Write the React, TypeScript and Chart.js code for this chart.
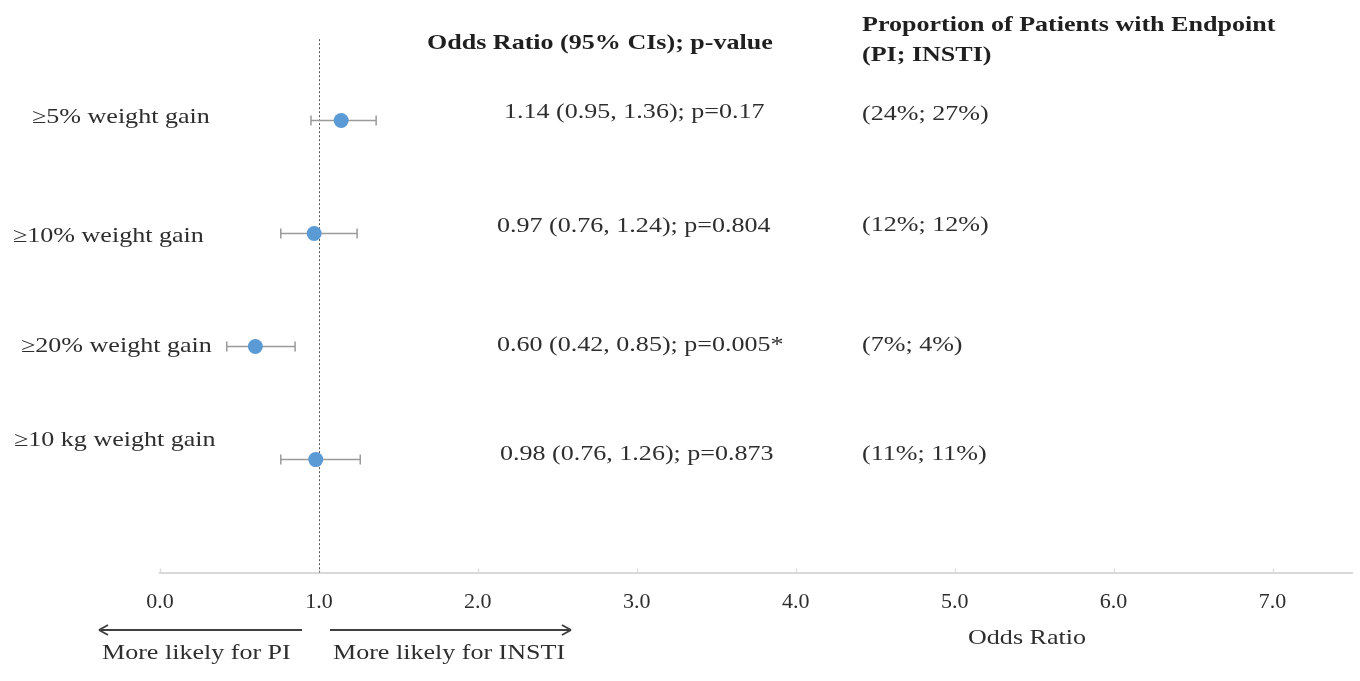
import React, { useEffect, useRef } from 'react';
import { Chart, registerables } from 'chart.js';

Chart.register(...registerables);

// ---- data ----
const OUTCOMES = ['≥5% weight gain', '≥10% weight gain', '≥20% weight gain', '≥10 kg weight gain'];
const ODDS_RATIOS = [1.14, 0.97, 0.6, 0.98];
const CI_LOWER = [0.95, 0.76, 0.42, 0.76];
const CI_UPPER = [1.36, 1.24, 0.85, 1.26];
const P_VALUES = ['0.17', '0.804', '0.005*', '0.873'];
const PROP_PI = [24, 12, 7, 11];
const PROP_INSTI = [27, 12, 4, 11];
const ROW_POSITIONS = [4, 3, 2, 1];
const X_MIN = 0;
const X_MAX = 7.5;
const REFERENCE_OR = 1;

// ---- layout (text annotation placement, px) ----
const LABEL_X = [32, 13, 21, 14];
const LABEL_BASELINE = [123, 242, 352, 446];
const VALUE_X = [504, 497, 497, 500];
const VALUE_BASELINE = [118, 232, 351, 460];
const PROP_X = 862;
const PROP_BASELINE = [120, 231, 351, 460];
const SX = 1.24;
const FONT_FAMILY = '"Liberation Serif", "Times New Roman", Times, serif';
const TEXT_COLOR = '#2e2e2e';

function stretchText(
  ctx: CanvasRenderingContext2D,
  text: string,
  x: number,
  y: number,
  opts: { bold?: boolean; size?: number; color?: string; align?: CanvasTextAlign } = {}
) {
  ctx.save();
  ctx.font = `${opts.bold ? 'bold ' : ''}${opts.size || 21}px ${FONT_FAMILY}`;
  ctx.fillStyle = opts.color || TEXT_COLOR;
  ctx.textBaseline = 'alphabetic';
  ctx.textAlign = opts.align || 'left';
  ctx.translate(x, y);
  ctx.scale(SX, 1);
  ctx.fillText(text, 0, 0);
  ctx.restore();
}

function seg(ctx: CanvasRenderingContext2D, x1: number, y1: number, x2: number, y2: number) {
  ctx.beginPath();
  ctx.moveTo(x1, y1);
  ctx.lineTo(x2, y2);
  ctx.stroke();
}

const forestPlugin = {
  id: 'forestPlugin',
  beforeDatasetsDraw(chart: any) {
    const { ctx, chartArea } = chart;
    const x = chart.scales.x;
    const y = chart.scales.y;
    ctx.save();
    // upward tick marks on axis
    ctx.strokeStyle = '#dedede';
    ctx.lineWidth = 1.5;
    x.ticks.forEach((t: any) => {
      const px = Math.round(x.getPixelForValue(t.value)) + 0.5;
      seg(ctx, px, chartArea.bottom, px, chartArea.bottom - 4);
    });
    // reference line at OR = 1
    ctx.strokeStyle = '#555555';
    ctx.lineWidth = 1;
    ctx.setLineDash([2, 2]);
    const rx = Math.round(x.getPixelForValue(REFERENCE_OR)) + 0.5;
    seg(ctx, rx, y.getPixelForValue(4.72), rx, chartArea.bottom);
    ctx.setLineDash([]);
    // error bars
    ctx.strokeStyle = '#9a9a9a';
    ctx.lineWidth = 1.5;
    ROW_POSITIONS.forEach((pos, i) => {
      const py = y.getPixelForValue(pos);
      const x1 = x.getPixelForValue(CI_LOWER[i]);
      const x2 = x.getPixelForValue(CI_UPPER[i]);
      seg(ctx, x1, py, x2, py);
      seg(ctx, x1, py - 5, x1, py + 5);
      seg(ctx, x2, py - 5, x2, py + 5);
    });
    ctx.restore();
  },
  afterDraw(chart: any) {
    const { ctx } = chart;
    ctx.save();
    // headers
    stretchText(ctx, 'Odds Ratio (95% CIs); p-value', 427, 49, { bold: true, color: '#1f1f1f' });
    stretchText(ctx, 'Proportion of Patients with Endpoint', PROP_X, 31, { bold: true, color: '#1f1f1f' });
    stretchText(ctx, '(PI; INSTI)', PROP_X, 61, { bold: true, color: '#1f1f1f' });
    // rows
    OUTCOMES.forEach((label, i) => {
      stretchText(ctx, label, LABEL_X[i], LABEL_BASELINE[i]);
      const txt = `${ODDS_RATIOS[i].toFixed(2)} (${CI_LOWER[i].toFixed(2)}, ${CI_UPPER[i].toFixed(2)}); p=${P_VALUES[i]}`;
      stretchText(ctx, txt, VALUE_X[i], VALUE_BASELINE[i]);
      stretchText(ctx, `(${PROP_PI[i]}%; ${PROP_INSTI[i]}%)`, PROP_X, PROP_BASELINE[i]);
    });
    // axis title
    stretchText(ctx, 'Odds Ratio', 1027, 644, { align: 'center' });
    // direction arrows
    ctx.strokeStyle = '#404040';
    ctx.lineWidth = 2;
    const ay = 630;
    seg(ctx, 302, ay, 99, ay);
    seg(ctx, 99, ay, 108, ay - 5);
    seg(ctx, 99, ay, 108, ay + 5);
    seg(ctx, 330, ay, 571, ay);
    seg(ctx, 571, ay, 562, ay - 5);
    seg(ctx, 571, ay, 562, ay + 5);
    stretchText(ctx, 'More likely for PI', 102, 659);
    stretchText(ctx, 'More likely for INSTI', 333, 659);
    ctx.restore();
  },
};

export default function App() {
  const canvasRef = useRef<HTMLCanvasElement | null>(null);

  useEffect(() => {
    if (!canvasRef.current) return;
    const chart = new Chart(canvasRef.current, {
      type: 'scatter',
      data: {
        datasets: [
          {
            label: 'Odds Ratio',
            data: ODDS_RATIOS.map((v, i) => ({ x: v, y: ROW_POSITIONS[i] })),
            backgroundColor: '#5b9bd5',
            borderColor: '#5b9bd5',
            borderWidth: 0,
            pointRadius: 7.5,
            pointHoverRadius: 7.5,
          },
        ],
      },
      options: {
        responsive: false,
        animation: false,
        events: [],
        layout: { padding: { left: 160, right: 8, top: 6, bottom: 50 } },
        plugins: {
          legend: { display: false },
          tooltip: { enabled: false },
          title: { display: false },
        },
        scales: {
          x: {
            type: 'linear',
            min: X_MIN,
            max: X_MAX,
            grid: { display: false, drawTicks: false, drawOnChartArea: false },
            border: { display: true, color: '#d9d9d9', width: 2 },
            ticks: {
              stepSize: 1,
              includeBounds: false,
              padding: 16,
              color: TEXT_COLOR,
              font: { family: FONT_FAMILY, size: 22, lineHeight: 1.2 },
              maxRotation: 0,
              autoSkip: false,
              callback: (v: any) => Number(v).toFixed(1),
            },
          },
          y: {
            type: 'linear',
            min: 0,
            max: 5,
            display: false,
          },
        },
      },
      plugins: [forestPlugin],
    });
    return () => chart.destroy();
  }, []);

  return (
    <div style={{ position: 'absolute', left: 0, top: 0, width: 1360, height: 681, background: '#ffffff' }}>
      <canvas ref={canvasRef} width={1360} height={681} style={{ display: 'block' }} />
    </div>
  );
}
